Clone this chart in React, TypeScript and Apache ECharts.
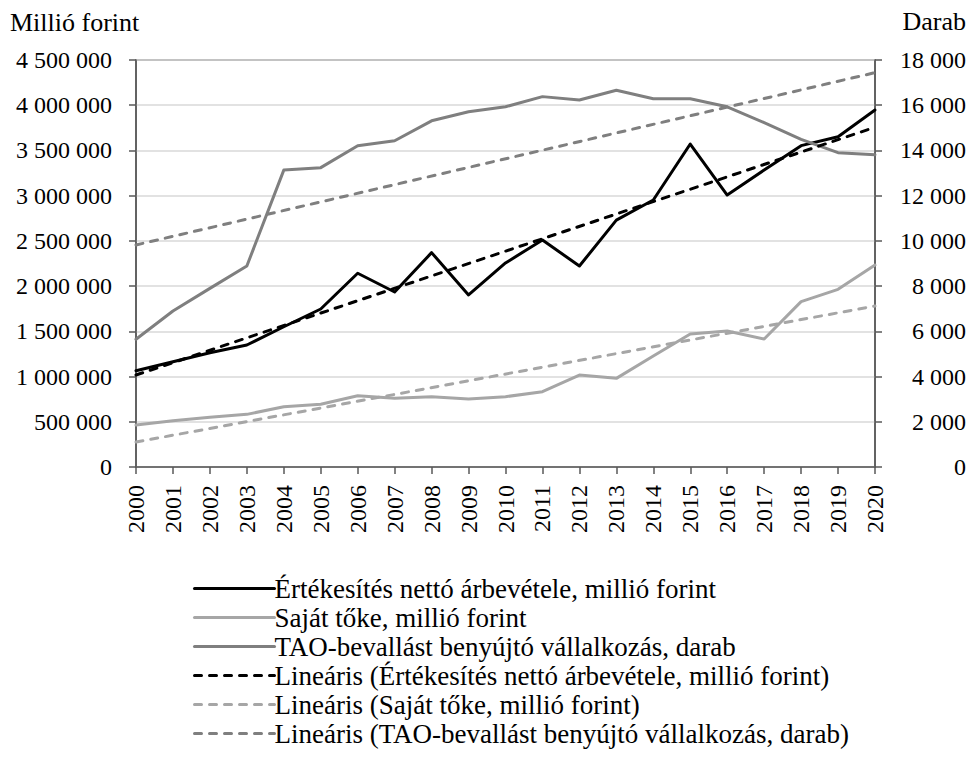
import React, { useEffect, useRef } from "react";
import * as echarts from "echarts";

const years = ["2000","2001","2002","2003","2004","2005","2006","2007","2008","2009","2010","2011","2012","2013","2014","2015","2016","2017","2018","2019","2020"];

// Értékesítés nettó árbevétele, millió forint (left axis)
const revenue = [1065000,1164000,1264000,1349000,1551000,1747000,2142000,1935000,2370000,1902000,2256000,2510000,2222000,2730000,2952000,3571000,3007000,3284000,3553000,3652000,3947000];
// Saját tőke, millió forint (left axis)
const equity = [464000,512000,549000,582000,667000,693000,788000,759000,777000,752000,777000,833000,1017000,980000,1227000,1470000,1504000,1415000,1828000,1964000,2233000];
// TAO-bevallást benyújtó vállalkozás, darab (right axis)
const firms = [5650,6900,7900,8890,13130,13240,14210,14430,15310,15710,15930,16380,16230,16660,16290,16290,15930,15230,14490,13900,13810];

// Linear trend end points
const revenueTrend = [["2000", 1017000], ["2020", 3756000]];
const equityTrend = [["2000", 276000], ["2020", 1780000]];
const firmsTrend = [["2000", 9820], ["2020", 17440]];

const leftTicks = { min: 0, max: 4500000, interval: 500000 };
const rightTicks = { min: 0, max: 18000, interval: 2000 };

const names = [
  "Értékesítés nettó árbevétele, millió forint",
  "Saját tőke, millió forint",
  "TAO-bevallást benyújtó vállalkozás, darab",
  "Lineáris (Értékesítés nettó árbevétele, millió forint)",
  "Lineáris (Saját tőke, millió forint)",
  "Lineáris (TAO-bevallást benyújtó vállalkozás, darab)",
];

const FONT = "Liberation Serif";
const FS = 24;
const FS_TEXT = 26;
const FS_LEGEND = 27;
const fmt = (v: number) => String(v).replace(/\B(?=(\d{3})+(?!\d))/g, " ");

export default function App() {
  const ref = useRef<HTMLDivElement>(null);
  useEffect(() => {
    document.body.style.margin = "0";
    if (!ref.current) return;
    const chart = echarts.init(ref.current, undefined, { renderer: "svg" });
    const dash = (color: string) => ({ color, width: 3, type: [7, 8], cap: "round" as const });
    const solid = (color: string) => ({ color, width: 3, cap: "round" as const, join: "round" as const });
    chart.setOption({
      animation: false,
      backgroundColor: "#ffffff",
      textStyle: { fontFamily: FONT },
      grid: {
        left: 136, right: 94, top: 60, bottom: 315, containLabel: false,
        show: true, borderColor: "#595959", borderWidth: 1.5, backgroundColor: "transparent",
      },
      graphic: [
        { type: "text", left: 10, top: 9, style: { text: "Millió forint", fontFamily: FONT, fontSize: FS_TEXT, fill: "#000" } },
        { type: "text", right: 3, top: 8, style: { text: "Darab", fontFamily: FONT, fontSize: FS_TEXT, fill: "#000" } },
      ],
      legend: {
        orient: "vertical",
        left: 188,
        top: 569,
        itemWidth: 80,
        itemHeight: 14,
        itemGap: 0,
        itemStyle: { opacity: 0 },
        lineStyle: { width: 3 },
        textStyle: { fontFamily: FONT, fontSize: FS_LEGEND, color: "#000", lineHeight: 29, padding: [0, 0, 0, -5] },
        data: names,
      },
      xAxis: {
        type: "category",
        data: years,
        boundaryGap: false,
        axisLine: { lineStyle: { color: "#595959", width: 1.5 } },
        axisTick: { show: true, length: 7, interval: 0, lineStyle: { color: "#595959", width: 1.5 } },
        axisLabel: { interval: 0, rotate: 90, margin: 18, color: "#000", fontSize: FS, fontFamily: FONT },
      },
      yAxis: [
        {
          type: "value",
          ...leftTicks,
          axisLine: { show: true, lineStyle: { color: "#595959", width: 1.5 } },
          axisTick: { show: true, length: 7, lineStyle: { color: "#595959", width: 1.5 } },
          axisLabel: { margin: 24, color: "#000", fontSize: FS, fontFamily: FONT, formatter: (v: number) => fmt(v) },
          splitLine: { show: true, lineStyle: { color: "#d9d9d9", width: 1.5 } },
        },
        {
          type: "value",
          position: "right",
          ...rightTicks,
          axisLine: { show: true, lineStyle: { color: "#595959", width: 1.5 } },
          axisTick: { show: true, length: 7, lineStyle: { color: "#595959", width: 1.5 } },
          axisLabel: { margin: 91, align: "right", color: "#000", fontSize: FS, fontFamily: FONT, formatter: (v: number) => fmt(v) },
          splitLine: { show: false },
        },
      ],
      series: [
        { name: names[0], type: "line", yAxisIndex: 0, data: revenue, symbol: "none", lineStyle: solid("#000000"), itemStyle: { color: "#000000" }, z: 3 },
        { name: names[1], type: "line", yAxisIndex: 0, data: equity, symbol: "none", lineStyle: solid("#a6a6a6"), itemStyle: { color: "#a6a6a6" }, z: 3 },
        { name: names[2], type: "line", yAxisIndex: 1, data: firms, symbol: "none", lineStyle: solid("#7f7f7f"), itemStyle: { color: "#7f7f7f" }, z: 3 },
        { name: names[3], type: "line", yAxisIndex: 0, data: revenueTrend, symbol: "none", lineStyle: dash("#000000"), itemStyle: { color: "#000000" }, z: 4 },
        { name: names[4], type: "line", yAxisIndex: 0, data: equityTrend, symbol: "none", lineStyle: dash("#a6a6a6"), itemStyle: { color: "#a6a6a6" }, z: 4 },
        { name: names[5], type: "line", yAxisIndex: 1, data: firmsTrend, symbol: "none", lineStyle: dash("#7f7f7f"), itemStyle: { color: "#7f7f7f" }, z: 4 },
      ],
    });
    return () => chart.dispose();
  }, []);
  return <div ref={ref} style={{ width: 969, height: 782 }} />;
}
